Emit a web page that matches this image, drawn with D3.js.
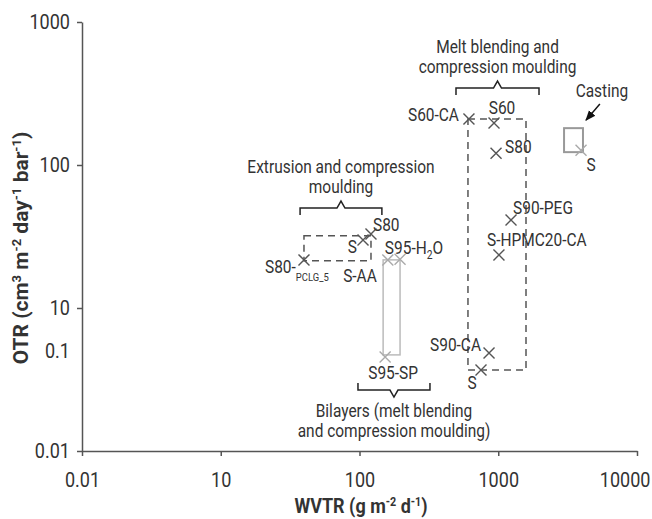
<!DOCTYPE html>
<html>
<head>
<meta charset="utf-8">
<script src="https://cdn.jsdelivr.net/npm/d3@7"></script>
<style>
  body { margin: 0; background: #fff; }
  svg text { font-family: Roboto, "Liberation Sans", sans-serif; fill: #333; }
</style>
</head>
<body>
<script>
// tick values (axis positions) and the labels printed at them
var xTicks = [1, 10, 100, 1000, 10000];
var xTickLabels = ["0.01", "10", "100", "1000", "10000"];
var yTicks = [1, 5, 10, 100, 1000];
var yTickLabels = ["0.01", "0.1", "10", "100", "1000"];

// samples
var pointName  = ["S80", "S", "S80-", "S95-H", "", "S95-SP",
                  "S60-CA", "S60", "S80", "S90-PEG", "S-HPMC20-CA", "S90-CA", "S", "S"];
var pointWVTR  = [121, 106, 39.8, 160, 196, 153,
                  615, 932, 964, 1236, 1012, 858, 751, 3950];
var pointOTR   = [32.9, 29.9, 21.7, 21.7, 21.9, 4.55,
                  210, 197, 121, 41.3, 23.5, 4.85, 3.69, 127];
var pointGroup = ["ext", "ext", "ext", "bil", "bil", "bil",
                  "melt", "melt", "melt", "melt", "melt", "melt", "melt", "cast"];

// group boxes: [wvtr min, wvtr max], [otr min, otr max]
var boxGroup = ["ext", "bil", "melt", "cast"];
var boxWVTR  = [[39.8, 121], [148, 196], [605, 1585], [2980, 4080]];
var boxOTR   = [[21.4, 32], [4.7, 21.7], [3.69, 210], [123, 181]];

// group brackets: wvtr from/to, otr level, title lines
var bracketWVTR  = [[37.3, 145], [496, 1967], [97.5, 322]];
var bracketOTR   = [50, 345, 2.67];
var bracketDir   = [1, 1, -1];
var bracketTitle = [["Extrusion and compression", "moulding"],
                    ["Melt blending and", "compression moulding"],
                    ["Bilayers (melt blending", "and compression moulding)"]];

const w = 652, h = 519;
const sx = 0.86; // squeeze text, the source uses a condensed face

const x = d3.scaleLog().domain([1, 10000]).range([82, 637]);
const y = d3.scaleLog().domain([1, 1000]).range([451, 22]);

const svg = d3.select("body").append("svg")
    .attr("width", w)
    .attr("height", h);

function txt(px, py, size, anchor, k) {
  return svg.append("text")
    .attr("transform", "translate(" + px + "," + py + ")scale(" + (k || sx) + ",1)")
    .attr("text-anchor", anchor)
    .attr("font-size", size);
}

svg.append("defs").append("marker")
    .attr("id", "arrow")
    .attr("viewBox", "0 0 10 10")
    .attr("refX", 9).attr("refY", 5)
    .attr("markerWidth", 7).attr("markerHeight", 7)
    .attr("orient", "auto")
    .append("path")
    .attr("d", "M0,1L10,5L0,9z")
    .attr("fill", "#111");

// axes
const xAxis = d3.axisBottom(x).tickValues(xTicks)
    .tickFormat((d, i) => xTickLabels[i]).tickSize(5).tickSizeOuter(0);
const yAxis = d3.axisLeft(y).tickValues(yTicks)
    .tickFormat((d, i) => yTickLabels[i]).tickSize(5).tickSizeOuter(0);

const gx = svg.append("g").attr("transform", "translate(0,451)").call(xAxis);
const gy = svg.append("g").attr("transform", "translate(82,0)").call(yAxis);

[gx, gy].forEach(g => {
  g.select(".domain").attr("stroke", "#555").attr("stroke-width", 1.5);
  g.selectAll(".tick line").attr("stroke", "#555").attr("stroke-width", 1.5);
  g.selectAll(".tick text").attr("font-size", 21).attr("fill", "#333")
    .attr("transform", "scale(" + sx + ",1)");
});
gx.attr("font-family", null);
gy.attr("font-family", null);
gx.selectAll(".tick text").attr("y", 21);
gx.selectAll(".tick text").filter(d => d === 10000)
    .attr("text-anchor", "end").attr("x", 13 / sx);
gy.selectAll(".tick text").attr("x", -12 / sx);
gy.selectAll(".tick line").filter(d => d === 5).remove();

// axis titles
const xt = txt(361, 513, 20, "middle", 0.9).attr("font-weight", "bold");
xt.append("tspan").text("WVTR (g m");
xt.append("tspan").text("-2").attr("font-size", 12).attr("baseline-shift", "super");
xt.append("tspan").text(" d");
xt.append("tspan").text("-1").attr("font-size", 12).attr("baseline-shift", "super");
xt.append("tspan").text(")");

const yt = svg.append("text")
    .attr("transform", "translate(28,248)rotate(-90)")
    .attr("text-anchor", "middle")
    .attr("font-size", 21).attr("font-weight", "bold");
yt.append("tspan").text("OTR (cm");
yt.append("tspan").text("3").attr("font-size", 13).attr("baseline-shift", "super");
yt.append("tspan").text(" m");
yt.append("tspan").text("-2").attr("font-size", 13).attr("baseline-shift", "super");
yt.append("tspan").text(" day");
yt.append("tspan").text("-1").attr("font-size", 13).attr("baseline-shift", "super");
yt.append("tspan").text(" bar");
yt.append("tspan").text("-1").attr("font-size", 13).attr("baseline-shift", "super");
yt.append("tspan").text(")");

// group boxes
const boxStyle = {
  ext:  {stroke: "#555", dash: "7,5", width: 1.5},
  bil:  {stroke: "#bbb", dash: null, width: 1.5},
  melt: {stroke: "#555", dash: "7,5", width: 1.5},
  cast: {stroke: "#999", dash: null, width: 2}
};
svg.selectAll("rect.box")
    .data(boxGroup)
    .enter().append("rect")
    .attr("class", "box")
    .attr("x", (d, i) => x(boxWVTR[i][0]))
    .attr("y", (d, i) => y(boxOTR[i][1]))
    .attr("width", (d, i) => x(boxWVTR[i][1]) - x(boxWVTR[i][0]))
    .attr("height", (d, i) => y(boxOTR[i][0]) - y(boxOTR[i][1]))
    .attr("fill", "none")
    .attr("stroke", d => boxStyle[d].stroke)
    .attr("stroke-width", d => boxStyle[d].width)
    .attr("stroke-dasharray", d => boxStyle[d].dash);

// brackets with titles
bracketTitle.forEach((t, i) => {
  const x1 = x(bracketWVTR[i][0]), x2 = x(bracketWVTR[i][1]);
  const yy = y(bracketOTR[i]), dir = bracketDir[i];
  const xm = (x1 + x2) / 2;
  svg.append("path")
    .attr("d", "M" + x1 + "," + (yy + 7 * dir) + "V" + yy + "H" + (xm - 4) +
         "L" + xm + "," + (yy - 7 * dir) + "L" + (xm + 4) + "," + yy + "H" + x2 + "V" + (yy + 7 * dir))
    .attr("fill", "none").attr("stroke", "#222").attr("stroke-width", 1.5);
  const base = dir > 0 ? yy - 35 : yy + 27;
  t.forEach((line, j) => {
    txt(xm, base + j * 20, 18, "middle").text(line);
  });
});

// markers
svg.selectAll("path.pt")
    .data(pointWVTR)
    .enter().append("path")
    .attr("class", "pt")
    .attr("transform", (d, i) => "translate(" + x(d) + "," + y(pointOTR[i]) + ")")
    .attr("d", "M-5.5,-5.5L5.5,5.5M-5.5,5.5L5.5,-5.5")
    .attr("fill", "none")
    .attr("stroke", (d, i) => pointGroup[i] === "bil" || pointGroup[i] === "cast" ? "#aaa" : "#555")
    .attr("stroke-width", 1.4);

// point labels: anchor, dx, dy
var labelPos = [["start", 2, -3], ["end", -6, 13], ["start", -39, 13], ["start", -3, -6], null, ["middle", 8, 22],
                ["end", -10, 2], ["middle", 8, -9], ["start", 9, 0], ["start", 2, -6], ["start", -12, -9],
                ["end", -8, -2], ["middle", -9, 19], ["middle", 10, 21]];

pointName.forEach((n, i) => {
  if (!n) return;
  const p = labelPos[i];
  const t = txt(x(pointWVTR[i]) + p[1], y(pointOTR[i]) + p[2], 18, p[0]);
  if (n === "S80-") {
    t.append("tspan").text("S80-");
    t.append("tspan").text("PCLG_5").attr("font-size", 11).attr("dy", 8);
  } else if (n === "S95-H") {
    t.append("tspan").text("S95-H");
    t.append("tspan").text("2").attr("font-size", 12).attr("dy", 5);
    t.append("tspan").text("O").attr("dy", -5);
  } else {
    t.text(n);
  }
});

// S-AA annotation below extrusion box
txt(x(boxWVTR[0][1]) - 11, y(boxOTR[0][0]) + 21, 18, "middle").text("S-AA");

// casting arrow
var castArrow = [[5400, 267], [4290, 206]];
svg.append("line")
    .attr("x1", x(castArrow[0][0])).attr("y1", y(castArrow[0][1]))
    .attr("x2", x(castArrow[1][0])).attr("y2", y(castArrow[1][1]))
    .attr("stroke", "#111").attr("stroke-width", 1.5)
    .attr("marker-end", "url(#arrow)");
txt(x(castArrow[0][0]) + 2, y(castArrow[0][1]) - 7, 18, "middle").text("Casting");
</script>
</body>
</html>
